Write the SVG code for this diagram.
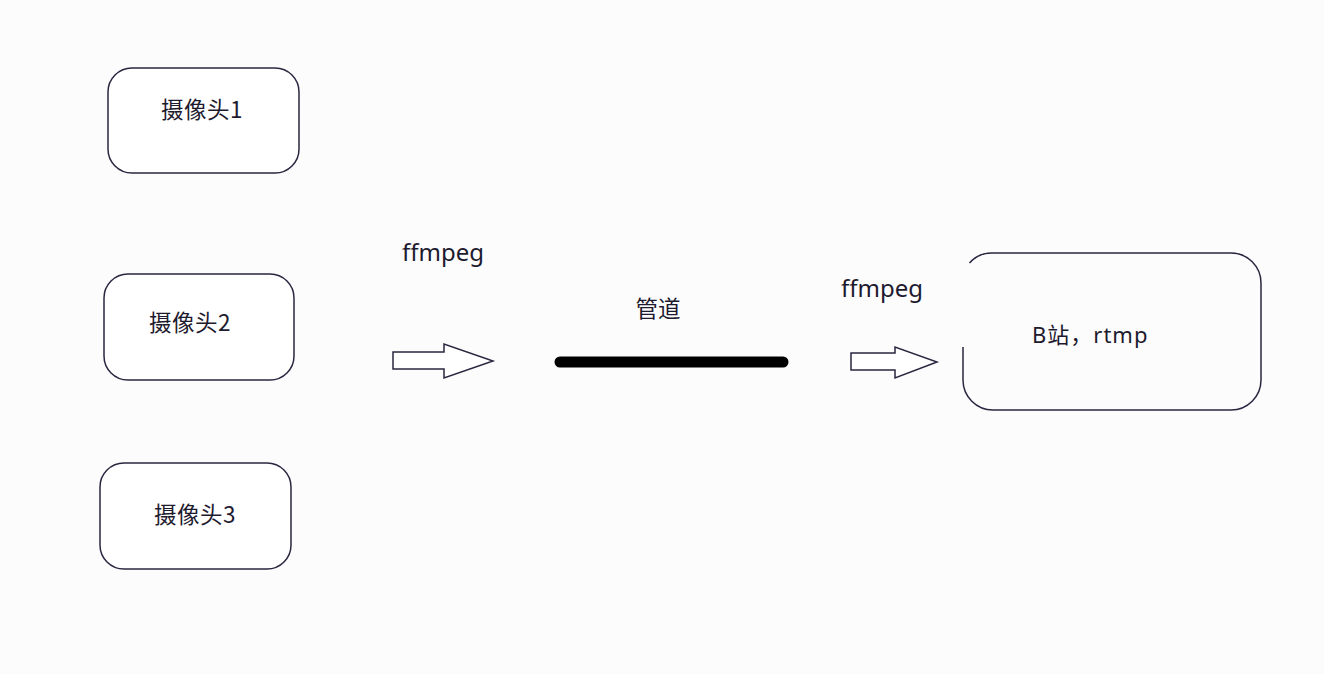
<svg xmlns="http://www.w3.org/2000/svg" width="1324" height="674" viewBox="0 0 1324 674">
<style>
.box{fill:#ffffff;stroke:#2b2640;stroke-width:1.5}
.t{font-family:"Noto Sans","Noto Sans CJK SC",sans-serif;fill:#1e1a2e}
.cjk{font-family:"Noto Sans CJK SC","Noto Sans",sans-serif;fill:#1e1a2e;font-size:22.5px}
.arr{fill:#ffffff;stroke:#2b2640;stroke-width:1.5;stroke-linejoin:miter}
</style>
<rect width="1324" height="674" fill="#fcfcfd"/>
<g id="cam1">
<rect class="box" x="108" y="68" width="191" height="105" rx="24" ry="24"/>
<text class="cjk" x="161" y="118" letter-spacing="0.5">摄像头1</text>
</g>
<g id="cam2">
<rect class="box" x="104" y="274" width="190" height="106" rx="24" ry="24"/>
<text class="cjk" x="149" y="331" letter-spacing="0.5">摄像头2</text>
</g>
<g id="cam3">
<rect class="box" x="100" y="463" width="191" height="106" rx="24" ry="24"/>
<text class="cjk" x="154" y="523" letter-spacing="0.5">摄像头3</text>
</g>
<g id="pipe">
<line x1="560" y1="362" x2="783" y2="362" stroke="#000" stroke-width="11" stroke-linecap="round"/>
<text class="cjk" x="658" y="317" text-anchor="middle">管道</text>
</g>
<g id="bilibili">
<path d="M969.5 263 A30 30 0 0 1 993 253 H1231 A30 30 0 0 1 1261 283 V380 A30 30 0 0 1 1231 410 H993 A30 30 0 0 1 963 380 V347" fill="none" stroke="#2b2640" stroke-width="1.5"/>
<text class="t" x="1032" y="343" font-size="22" letter-spacing="1">B站，rtmp</text>
</g>
<g id="connectors">
<path class="arr" d="M393 352 H444 V344 L493 361 L444 378 V369 H393 Z"/>
<text class="t" x="402" y="261" font-size="24">ffmpeg</text>
<path class="arr" d="M851 353 H895 V347 L937 362 L895 378 V370 H851 Z"/>
<text class="t" x="841" y="297" font-size="24">ffmpeg</text>
</g>
</svg>
